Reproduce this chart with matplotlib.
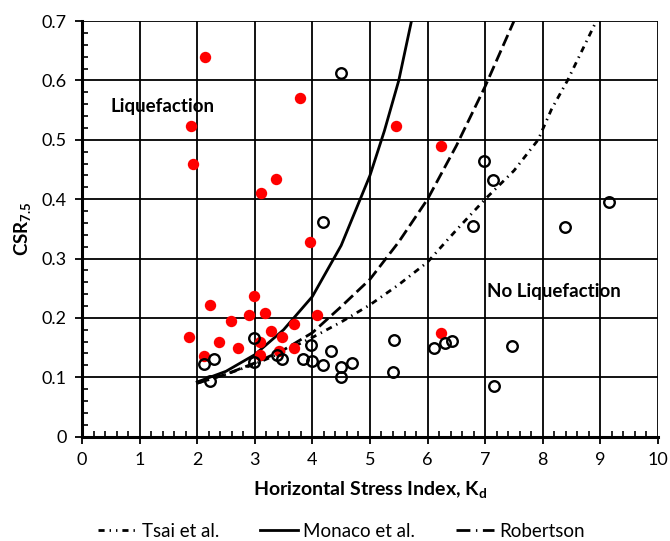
import matplotlib
matplotlib.use("Agg")
import matplotlib.pyplot as plt
from matplotlib.lines import Line2D
from matplotlib.ticker import MultipleLocator

plt.rcParams["font.family"] = ["Lato", "DejaVu Sans"]
plt.rcParams["mathtext.default"] = "regular"

# case histories: liquefied sites
liq_kd = [2.14, 1.90, 1.93, 3.78, 3.10, 3.37, 3.96, 5.45, 6.23, 2.23, 2.99, 2.59, 2.90,
          3.18, 3.68, 4.08, 1.85, 2.38, 2.71, 3.29, 3.48, 3.09, 3.09, 3.42, 3.68, 2.12, 6.23]
liq_csr = [0.639, 0.523, 0.459, 0.570, 0.411, 0.434, 0.328, 0.523, 0.489, 0.222, 0.237,
           0.195, 0.205, 0.209, 0.190, 0.205, 0.167, 0.160, 0.149, 0.178, 0.168, 0.160,
           0.137, 0.144, 0.149, 0.136, 0.175]

# case histories: non-liquefied sites
noliq_kd = [4.50, 6.98, 7.14, 6.79, 8.39, 9.15, 4.18, 2.99, 2.30, 2.12, 2.23, 2.99, 3.38,
            3.47, 3.97, 3.84, 4.00, 4.19, 4.32, 4.50, 4.50, 4.69, 5.42, 5.40, 6.12, 6.30,
            6.42, 7.47, 7.16]
noliq_csr = [0.612, 0.465, 0.432, 0.354, 0.353, 0.395, 0.362, 0.166, 0.131, 0.122, 0.094,
             0.125, 0.138, 0.130, 0.154, 0.131, 0.127, 0.121, 0.144, 0.118, 0.100, 0.124,
             0.162, 0.108, 0.149, 0.158, 0.161, 0.153, 0.085]

# boundary curves
monaco_kd = [2.0, 2.5, 3.0, 3.5, 4.0, 4.5, 5.0, 5.25, 5.5, 5.72]
monaco_csr = [0.092, 0.110, 0.138, 0.180, 0.236, 0.322, 0.440, 0.515, 0.600, 0.700]

robertson_kd = [2.0, 2.5, 3.0, 3.5, 4.0, 4.5, 5.0, 5.5, 6.0, 6.5, 7.0, 7.5]
robertson_csr = [0.090, 0.105, 0.124, 0.146, 0.175, 0.219, 0.265, 0.328, 0.400, 0.490,
                 0.590, 0.700]

tsai_kd = [2.0, 2.5, 3.0, 3.5, 4.0, 4.5, 5.0, 5.5, 6.0, 6.5, 7.0, 7.5, 7.92, 8.15, 8.43, 8.93]
tsai_csr = [0.090, 0.105, 0.122, 0.143, 0.167, 0.193, 0.222, 0.256, 0.294, 0.348, 0.400,
            0.448, 0.500, 0.551, 0.600, 0.700]

LW = 2.0
ls_robertson = (0, (4.3, 1.8))
ls_tsai = (0, (2.2, 1.8, 0.5, 1.8))

fig = plt.figure(figsize=(6.70, 5.41), dpi=100)
ax = fig.add_axes([0.1224, 0.193, 0.8596, 0.768])

ax.plot(monaco_kd, monaco_csr, color="black", lw=LW, zorder=3)
ax.plot(robertson_kd, robertson_csr, color="black", lw=LW, ls=ls_robertson, zorder=3)
ax.plot(tsai_kd, tsai_csr, color="black", lw=LW, ls=ls_tsai, zorder=3)

ax.plot(liq_kd, liq_csr, "o", color="#ff0000", ms=8.2, mec="none", zorder=4)
ax.plot(noliq_kd, noliq_csr, "o", mfc="none", mec="black", ms=7.6, mew=1.7, zorder=4)

ax.set_xlim(0, 10)
ax.set_ylim(0, 0.7)
ax.xaxis.set_major_locator(MultipleLocator(1))
ax.xaxis.set_minor_locator(MultipleLocator(0.2))
ax.yaxis.set_major_locator(MultipleLocator(0.1))
ax.yaxis.set_minor_locator(MultipleLocator(0.02))
ax.yaxis.set_major_formatter(plt.FuncFormatter(lambda v, p: "0" if v == 0 else f"{v:.1f}"))
ax.grid(True, which="major", color="black", lw=1.3)
ax.set_axisbelow(True)

ax.tick_params(which="major", direction="out", length=5, width=1.3, labelsize=13,
               colors="black", pad=6)
ax.tick_params(which="minor", direction="in", length=4, width=1.2)
for side in ["top", "right"]:
    ax.spines[side].set_visible(False)
for side in ["left", "bottom"]:
    ax.spines[side].set_linewidth(2.2)

ax.set_xlabel("Horizontal Stress Index, K$_{d}$", fontsize=14, fontweight="bold", labelpad=8)
ax.set_ylabel("CSR$_{7.5}$", fontsize=13.5, fontweight="bold", labelpad=6)

ax.text(1.40, 0.556, "Liquefaction", fontsize=13.5, fontweight="bold", ha="center", va="center")
ax.text(8.20, 0.244, "No Liquefaction", fontsize=13.5, fontweight="bold", ha="center", va="center")

handles = [
    Line2D([], [], color="black", lw=LW, ls=(0, (2.2, 1.8, 0.5, 1.8, 0.5, 1.8))),
    Line2D([], [], color="black", lw=LW),
    Line2D([], [], color="black", lw=LW, ls=(0, (5.0, 2.0, 0.5, 2.0))),
]
fig.legend(handles, ["Tsai et al.", "Monaco et al.", "Robertson"], loc="lower center",
           bbox_to_anchor=(0.51, -0.012), borderaxespad=0.0, ncol=3, frameon=False,
           fontsize=13.5, handlelength=2.0, handletextpad=0.3, columnspacing=2.2)

fig.savefig("out.png", dpi=100)
